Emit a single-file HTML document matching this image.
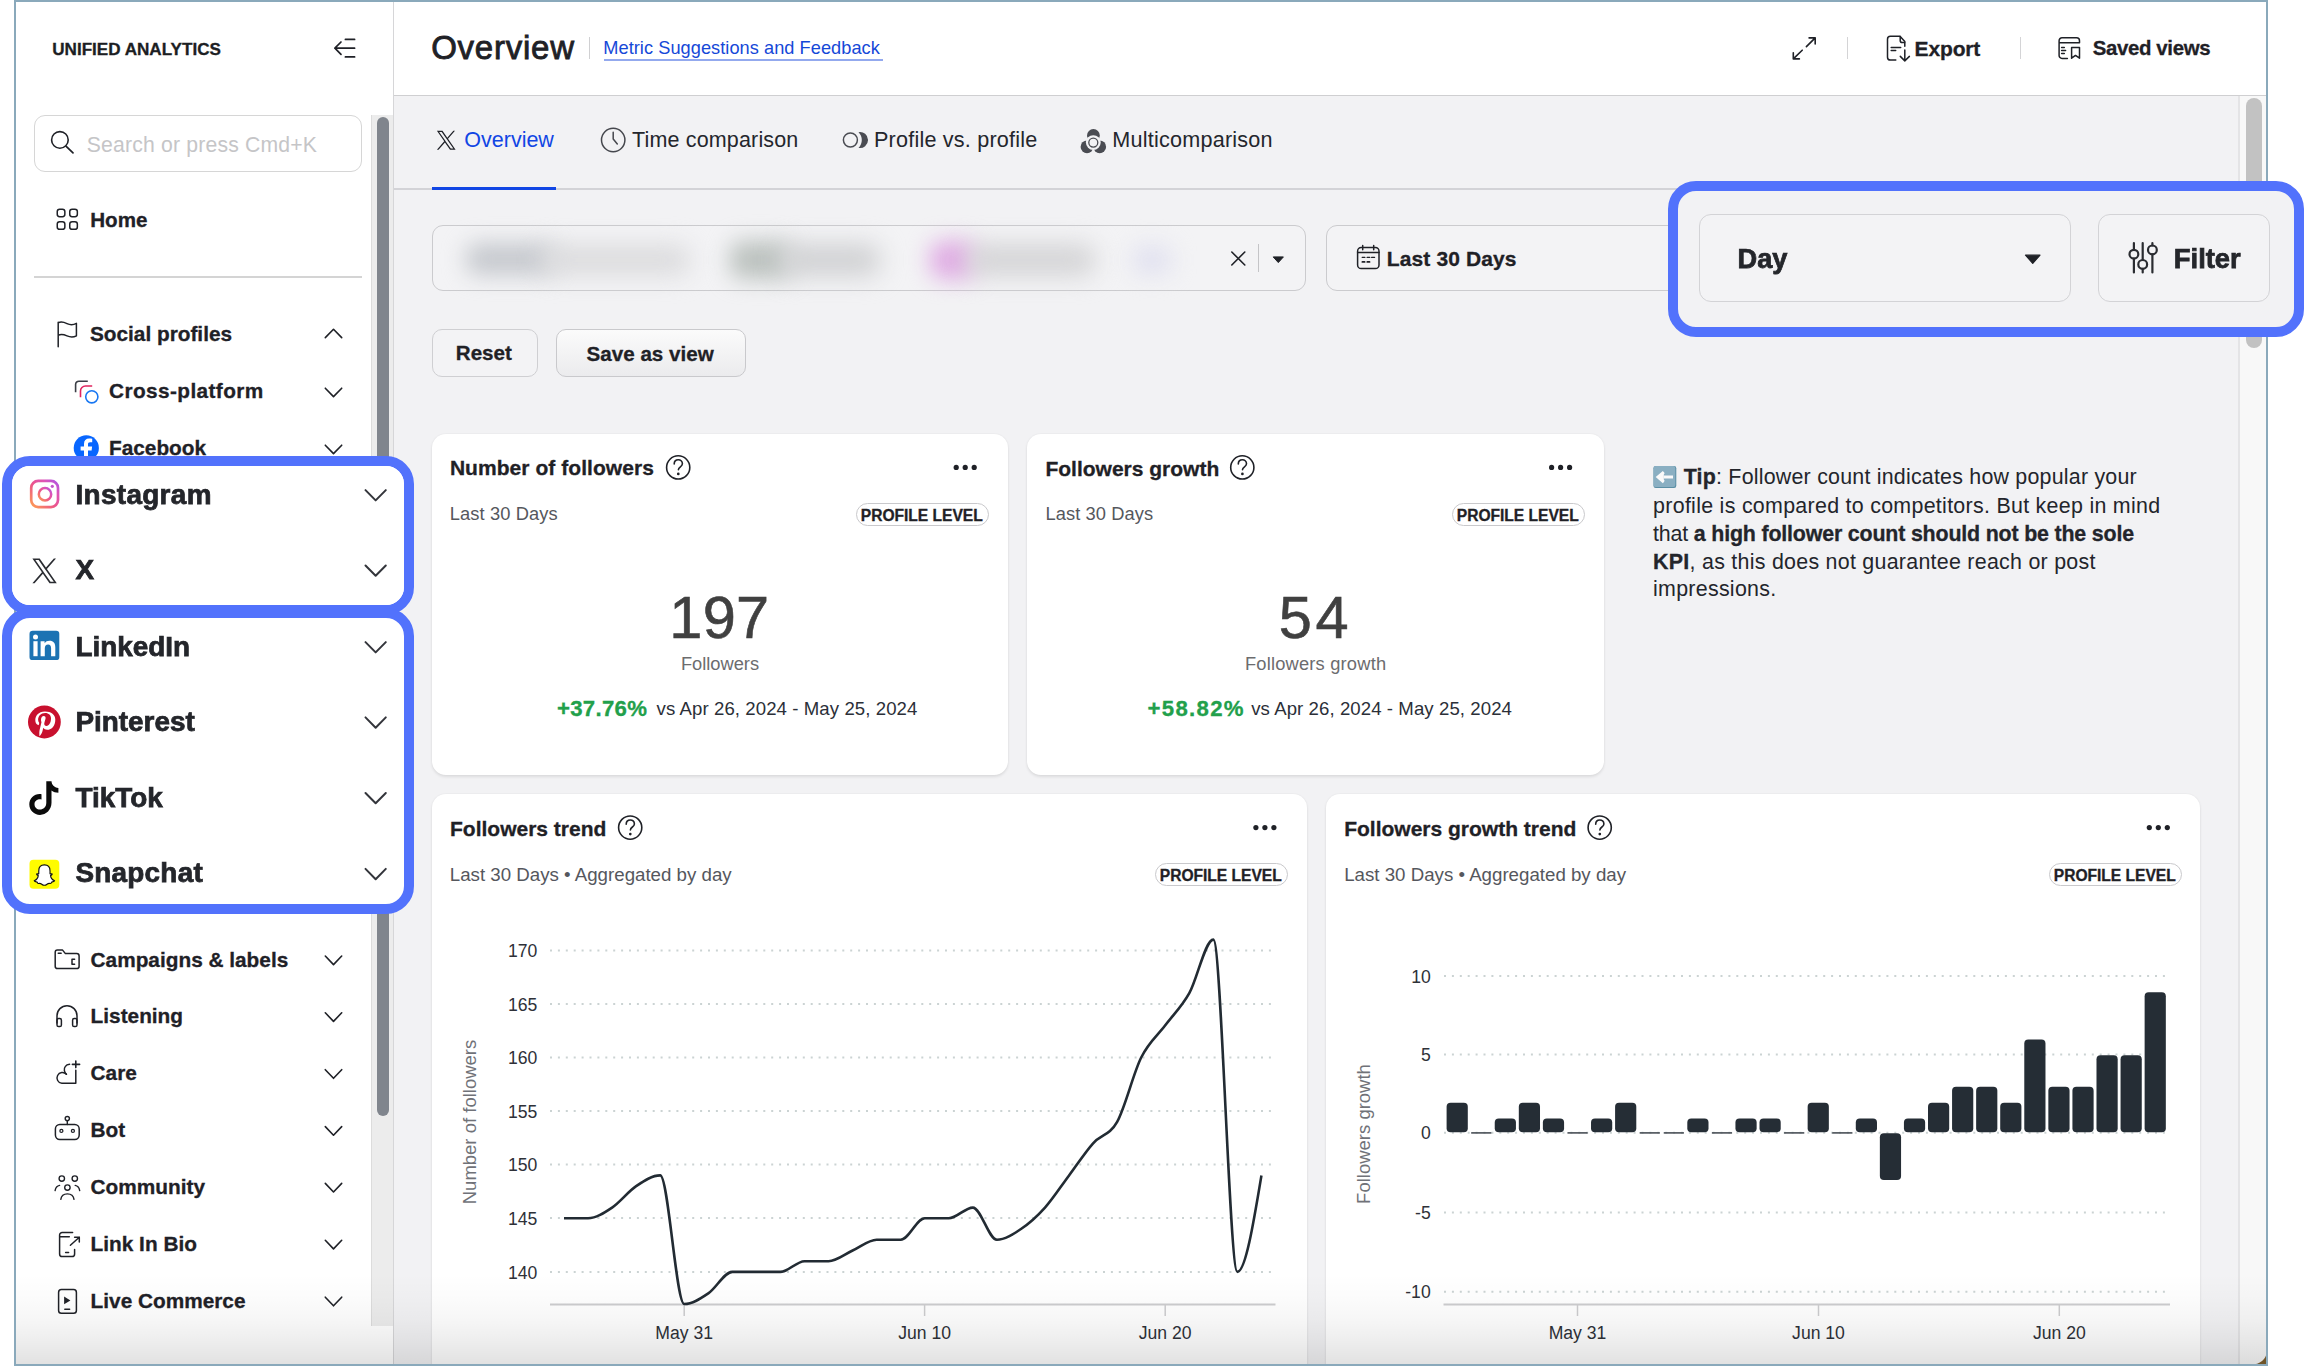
<!DOCTYPE html>
<html><head><meta charset="utf-8"><title>Unified Analytics - Overview</title>
<style>
*{margin:0;padding:0;box-sizing:border-box}
html,body{width:2306px;height:1366px;overflow:hidden;background:#fff}
body{position:relative;font-family:'Liberation Sans', Arial, sans-serif;color:#1f2127;-webkit-font-smoothing:antialiased}
.t{position:absolute;white-space:nowrap;line-height:1}
.t[style*="font-weight:700"], .t b{-webkit-text-stroke:0.3px currentColor}
.b{position:absolute}
svg.i{position:absolute;overflow:visible}
</style></head>
<body>
<div class="b" style="left:16px;top:2px;width:377px;height:1362px;background:#fff"></div>
<div class="b" style="left:393px;top:2px;width:1px;height:1362px;background:#d6d6d8"></div>
<div class="b" style="left:394px;top:2px;width:1872px;height:93px;background:#fff"></div>
<div class="b" style="left:394px;top:95px;width:1872px;height:1px;background:#cfcfd1"></div>
<div class="b" style="left:394px;top:96px;width:1872px;height:1268px;background:#f2f2f4"></div>
<div class="b" style="left:2238px;top:96px;width:2px;height:1268px;background:#e4e4e6"></div>
<div class="b" style="left:2240px;top:96px;width:26px;height:1268px;background:#f8f8f8"></div>
<div class="b" style="left:2246px;top:98px;width:16px;height:250px;background:#c2c2c2;border-radius:8px"></div>
<div class="b" style="left:394px;top:188px;width:1844px;height:2px;background:#d3d3d7"></div>
<div class="b" style="left:432px;top:187px;width:124px;height:3px;background:#1146e4"></div>
<div class="t" style="left:52.2px;top:40.52px;font-size:17.1px;font-weight:700;color:#1c1e23;">UNIFIED ANALYTICS</div>
<div class="b" style="left:34px;top:115px;width:328px;height:57px;border:1.5px solid #d6d6d6;border-radius:11px;background:#fff"></div>
<div class="t" style="left:86.7px;top:134.15px;font-size:21.2px;color:#c5c5c7;letter-spacing:0.18px;">Search or press Cmd+K</div>
<div class="t" style="left:90.2px;top:209.56px;font-size:20.6px;font-weight:700;">Home</div>
<div class="b" style="left:34px;top:276px;width:328px;height:2px;background:#d4d4d4"></div>
<div class="b" style="left:371px;top:115px;width:22px;height:1211px;background:#ececec;border-left:1px solid #dcdcdc"></div>
<div class="b" style="left:377px;top:117px;width:12px;height:999px;background:#80858d;border-radius:6px"></div>
<div class="t" style="left:89.9px;top:324.09px;font-size:20.8px;font-weight:700;">Social profiles</div>
<div class="t" style="left:109.0px;top:381.39px;font-size:20.8px;font-weight:700;letter-spacing:0.4px;">Cross-platform</div>
<div class="t" style="left:109.0px;top:438.19px;font-size:20.8px;font-weight:700;">Facebook</div>
<div class="t" style="left:109.0px;top:494.99px;font-size:20.8px;font-weight:700;">Instagram</div>
<div class="t" style="left:109.0px;top:551.79px;font-size:20.8px;font-weight:700;">X</div>
<div class="t" style="left:109.0px;top:608.69px;font-size:20.8px;font-weight:700;">LinkedIn</div>
<div class="t" style="left:109.0px;top:665.49px;font-size:20.8px;font-weight:700;">Pinterest</div>
<div class="t" style="left:109.0px;top:722.39px;font-size:20.8px;font-weight:700;">TikTok</div>
<div class="t" style="left:109.0px;top:779.19px;font-size:20.8px;font-weight:700;">Snapchat</div>
<div class="t" style="left:109.0px;top:836.09px;font-size:20.8px;font-weight:700;">YouTube</div>
<div class="t" style="left:109.0px;top:892.89px;font-size:20.8px;font-weight:700;">Threads</div>
<div class="t" style="left:90.6px;top:949.59px;font-size:20.8px;font-weight:700;">Campaigns &amp; labels</div>
<div class="t" style="left:90.6px;top:1006.39px;font-size:20.8px;font-weight:700;">Listening</div>
<div class="t" style="left:90.6px;top:1063.29px;font-size:20.8px;font-weight:700;">Care</div>
<div class="t" style="left:90.6px;top:1120.19px;font-size:20.8px;font-weight:700;">Bot</div>
<div class="t" style="left:90.6px;top:1176.99px;font-size:20.8px;font-weight:700;">Community</div>
<div class="t" style="left:90.6px;top:1233.89px;font-size:20.8px;font-weight:700;">Link In Bio</div>
<div class="t" style="left:90.6px;top:1290.79px;font-size:20.8px;font-weight:700;">Live Commerce</div>
<div class="t" style="left:431.2px;top:30.87px;font-size:33px;color:#1f2126;letter-spacing:0.75px;-webkit-text-stroke:0.85px #1f2126;">Overview</div>
<div class="b" style="left:589px;top:37px;width:1px;height:22px;background:#d0d0d2"></div>
<div class="t" style="left:603.3px;top:38.89px;font-size:18.2px;color:#1548d8;letter-spacing:0.05px;">Metric Suggestions and Feedback</div>
<div class="b" style="left:604px;top:59px;width:279px;height:2px;background:#93a9ee"></div>
<div class="b" style="left:1847px;top:37px;width:1px;height:22px;background:#d4d4d6"></div>
<div class="t" style="left:1914.6px;top:37.92px;font-size:21px;font-weight:700;color:#1f2126;letter-spacing:-0.15px;">Export</div>
<div class="b" style="left:2020px;top:37px;width:1px;height:22px;background:#d4d4d6"></div>
<div class="t" style="left:2092.7px;top:38.43px;font-size:20.4px;font-weight:700;color:#1f2126;letter-spacing:-0.35px;">Saved views</div>
<div class="t" style="left:464.3px;top:130.20px;font-size:21.5px;color:#1146e4;">Overview</div>
<div class="t" style="left:632.1px;top:130.20px;font-size:21.5px;color:#24262c;letter-spacing:0.15px;">Time comparison</div>
<div class="t" style="left:874.0px;top:128.72px;font-size:21.6px;color:#24262c;letter-spacing:0.2px;">Profile vs. profile</div>
<div class="t" style="left:1112.3px;top:128.72px;font-size:21.6px;color:#24262c;letter-spacing:0.22px;">Multicomparison</div>
<div class="b" style="left:432px;top:225px;width:874px;height:66px;border:1.5px solid #cbcbce;border-radius:11px;background:#f3f3f5;overflow:hidden"></div>
<div class="b" style="left:466px;top:243px;width:90px;height:32px;background:#c6c9ce;border-radius:12px;filter:blur(11px)"></div>
<div class="b" style="left:540px;top:245px;width:150px;height:30px;background:#dbdbdd;border-radius:12px;filter:blur(12px)"></div>
<div class="b" style="left:730px;top:241px;width:62px;height:38px;background:#bcc2bf;border-radius:12px;filter:blur(11px)"></div>
<div class="b" style="left:780px;top:244px;width:100px;height:32px;background:#d0d1d3;border-radius:12px;filter:blur(12px)"></div>
<div class="b" style="left:930px;top:241px;width:46px;height:38px;background:#e0ace4;border-radius:12px;filter:blur(11px)"></div>
<div class="b" style="left:966px;top:244px;width:129px;height:32px;background:#d4d4d6;border-radius:12px;filter:blur(12px)"></div>
<div class="b" style="left:1132px;top:245px;width:40px;height:30px;background:#e2e2f0;border-radius:12px;filter:blur(11px)"></div>
<div class="b" style="left:1257.5px;top:244px;width:1.5px;height:28px;background:#c4c4c7"></div>
<div class="b" style="left:1326px;top:225px;width:374px;height:66px;border:1.5px solid #cbcbce;border-radius:11px;background:#f3f3f5"></div>
<div class="t" style="left:1386.8px;top:247.82px;font-size:21px;font-weight:700;color:#1f2126;letter-spacing:0.12px;">Last 30 Days</div>
<div class="b" style="left:432px;top:329px;width:106px;height:48px;border:1.5px solid #cfcfd2;border-radius:10px;background:#f3f3f5"></div>
<div class="t" style="left:455.8px;top:343.06px;font-size:20.6px;font-weight:700;color:#1f2126;">Reset</div>
<div class="b" style="left:556px;top:329px;width:190px;height:48px;border:1.5px solid #c9c9cc;border-radius:10px;background:linear-gradient(#fbfbfb,#ebebed)"></div>
<div class="t" style="left:586.6px;top:343.56px;font-size:20.6px;font-weight:700;color:#1f2126;">Save as view</div>
<div class="b" style="left:432px;top:434px;width:576px;height:341px;background:#fff;border-radius:14px;box-shadow:0 1.5px 3px rgba(0,0,0,0.09),0 0 0 1px rgba(0,0,0,0.012)"></div>
<div class="b" style="left:1027px;top:434px;width:577px;height:341px;background:#fff;border-radius:14px;box-shadow:0 1.5px 3px rgba(0,0,0,0.09),0 0 0 1px rgba(0,0,0,0.012)"></div>
<div class="b" style="left:432px;top:794px;width:875px;height:606px;background:#fff;border-radius:14px;box-shadow:0 1.5px 3px rgba(0,0,0,0.09),0 0 0 1px rgba(0,0,0,0.012)"></div>
<div class="b" style="left:1326px;top:794px;width:874px;height:606px;background:#fff;border-radius:14px;box-shadow:0 1.5px 3px rgba(0,0,0,0.09),0 0 0 1px rgba(0,0,0,0.012)"></div>
<div class="t" style="left:449.9px;top:457.42px;font-size:21px;font-weight:700;color:#1f2126;letter-spacing:0.05px;">Number of followers</div>
<div class="t" style="left:449.8px;top:505.31px;font-size:18.3px;color:#55575d;letter-spacing:0.1px;">Last 30 Days</div>
<div class="b" style="left:856px;top:503px;width:133px;height:23px;border:1.2px solid #c9c9cc;border-radius:12px;background:#fff"></div>
<div class="t" style="left:860.8px;top:508.19px;font-size:15.6px;font-weight:700;color:#1f2126;letter-spacing:-0.02px;">PROFILE LEVEL</div>
<div class="t" style="left:219.3px;width:1000px;text-align:center;top:587.63px;font-size:59.5px;color:#404040;letter-spacing:0.2px;-webkit-text-stroke:0.6px #404040;">197</div>
<div class="t" style="left:220.0px;width:1000px;text-align:center;top:654.71px;font-size:18.3px;color:#6c6c6e;">Followers</div>
<div class="t" style="left:556.9px;top:698.11px;font-size:22.2px;font-weight:700;color:#22a04b;letter-spacing:0.3px;">+37.76%</div>
<div class="t" style="left:656.6px;top:700.46px;font-size:18.6px;color:#2b2f38;letter-spacing:0.08px;">vs Apr 26, 2024 - May 25, 2024</div>
<div class="t" style="left:1045.4px;top:457.72px;font-size:21px;font-weight:700;color:#1f2126;">Followers growth</div>
<div class="t" style="left:1045.4px;top:505.31px;font-size:18.3px;color:#55575d;letter-spacing:0.1px;">Last 30 Days</div>
<div class="b" style="left:1452px;top:503px;width:133px;height:23px;border:1.2px solid #c9c9cc;border-radius:12px;background:#fff"></div>
<div class="t" style="left:1456.8px;top:508.19px;font-size:15.6px;font-weight:700;color:#1f2126;letter-spacing:-0.02px;">PROFILE LEVEL</div>
<div class="t" style="left:815.4px;width:1000px;text-align:center;top:587.63px;font-size:59.5px;color:#404040;letter-spacing:3.6px;-webkit-text-stroke:0.6px #404040;">54</div>
<div class="t" style="left:815.6px;width:1000px;text-align:center;top:654.71px;font-size:18.3px;color:#6c6c6e;letter-spacing:0.2px;">Followers growth</div>
<div class="t" style="left:1147.5px;top:698.11px;font-size:22.2px;font-weight:700;color:#22a04b;letter-spacing:1.3px;">+58.82%</div>
<div class="t" style="left:1251.2px;top:700.46px;font-size:18.6px;color:#2b2f38;letter-spacing:0.08px;">vs Apr 26, 2024 - May 25, 2024</div>
<div class="t" style="left:1653.1px;top:466.98px;font-size:21.4px;color:#23252b;letter-spacing:0.22px;"><span style="display:inline-block;width:30.6px"></span><b>Tip</b>: Follower count indicates how popular your</div>
<div class="t" style="left:1653.1px;top:496.08px;font-size:21.4px;color:#23252b;letter-spacing:0.29px;">profile is compared to competitors. But keep in mind</div>
<div class="t" style="left:1653.1px;top:523.88px;font-size:21.4px;color:#23252b;letter-spacing:-0.18px;">that <b>a high follower count should not be the sole</b></div>
<div class="t" style="left:1653.1px;top:551.58px;font-size:21.4px;color:#23252b;letter-spacing:0.27px;"><b>KPI</b>, as this does not guarantee reach or post</div>
<div class="t" style="left:1653.1px;top:579.38px;font-size:21.4px;color:#23252b;letter-spacing:0.27px;">impressions.</div>
<div class="t" style="left:450.0px;top:818.02px;font-size:21px;font-weight:700;color:#1f2126;">Followers trend</div>
<div class="t" style="left:449.8px;top:866.47px;font-size:18.7px;color:#55575d;">Last 30 Days • Aggregated by day</div>
<div class="b" style="left:1155px;top:863px;width:133px;height:23px;border:1.2px solid #c9c9cc;border-radius:12px;background:#fff"></div>
<div class="t" style="left:1159.8px;top:868.19px;font-size:15.6px;font-weight:700;color:#1f2126;letter-spacing:-0.02px;">PROFILE LEVEL</div>
<div class="t" style="left:1344.2px;top:818.02px;font-size:21px;font-weight:700;color:#1f2126;">Followers growth trend</div>
<div class="t" style="left:1344.2px;top:866.47px;font-size:18.7px;color:#55575d;">Last 30 Days • Aggregated by day</div>
<div class="b" style="left:2049px;top:863px;width:133px;height:23px;border:1.2px solid #c9c9cc;border-radius:12px;background:#fff"></div>
<div class="t" style="left:2053.8px;top:868.19px;font-size:15.6px;font-weight:700;color:#1f2126;letter-spacing:-0.02px;">PROFILE LEVEL</div>
<div class="t" style="right:1768.7px;text-align:right;top:943.10px;font-size:17.6px;color:#2e3138;">170</div>
<div class="t" style="right:1768.7px;text-align:right;top:996.60px;font-size:17.6px;color:#2e3138;">165</div>
<div class="t" style="right:1768.7px;text-align:right;top:1050.10px;font-size:17.6px;color:#2e3138;">160</div>
<div class="t" style="right:1768.7px;text-align:right;top:1103.70px;font-size:17.6px;color:#2e3138;">155</div>
<div class="t" style="right:1768.7px;text-align:right;top:1157.20px;font-size:17.6px;color:#2e3138;">150</div>
<div class="t" style="right:1768.7px;text-align:right;top:1210.70px;font-size:17.6px;color:#2e3138;">145</div>
<div class="t" style="right:1768.7px;text-align:right;top:1264.60px;font-size:17.6px;color:#2e3138;">140</div>
<div class="t" style="right:875.3px;text-align:right;top:968.60px;font-size:17.6px;color:#2e3138;">10</div>
<div class="t" style="right:875.3px;text-align:right;top:1047.10px;font-size:17.6px;color:#2e3138;">5</div>
<div class="t" style="right:875.3px;text-align:right;top:1125.40px;font-size:17.6px;color:#2e3138;">0</div>
<div class="t" style="right:875.3px;text-align:right;top:1205.20px;font-size:17.6px;color:#2e3138;">-5</div>
<div class="t" style="right:875.3px;text-align:right;top:1284.40px;font-size:17.6px;color:#2e3138;">-10</div>
<div class="t" style="left:184.2px;width:1000px;text-align:center;top:1324.90px;font-size:17.6px;color:#2e3138;">May 31</div>
<div class="t" style="left:424.6px;width:1000px;text-align:center;top:1324.90px;font-size:17.6px;color:#2e3138;">Jun 10</div>
<div class="t" style="left:665.2px;width:1000px;text-align:center;top:1324.90px;font-size:17.6px;color:#2e3138;">Jun 20</div>
<div class="t" style="left:1077.5px;width:1000px;text-align:center;top:1324.90px;font-size:17.6px;color:#2e3138;">May 31</div>
<div class="t" style="left:1318.5px;width:1000px;text-align:center;top:1324.90px;font-size:17.6px;color:#2e3138;">Jun 10</div>
<div class="t" style="left:1559.3px;width:1000px;text-align:center;top:1324.90px;font-size:17.6px;color:#2e3138;">Jun 20</div>
<div class="t" style="left:370px;top:1112.5px;width:200px;text-align:center;font-size:18.5px;color:#707278;transform:rotate(-90deg);line-height:18px">Number of followers</div>
<div class="t" style="left:1264.4px;top:1124.5px;width:200px;text-align:center;font-size:18.5px;color:#707278;transform:rotate(-90deg);line-height:18px">Followers growth</div>
<svg class="i" style="left:0;top:0" width="2306" height="1366" viewBox="0 0 2306 1366">
<line x1="550" y1="950.4" x2="1271" y2="950.4" stroke="#cbd3d3" stroke-width="2" stroke-dasharray="2 5.9"/>
<line x1="550" y1="1003.9" x2="1271" y2="1003.9" stroke="#cbd3d3" stroke-width="2" stroke-dasharray="2 5.9"/>
<line x1="550" y1="1057.4" x2="1271" y2="1057.4" stroke="#cbd3d3" stroke-width="2" stroke-dasharray="2 5.9"/>
<line x1="550" y1="1111.0" x2="1271" y2="1111.0" stroke="#cbd3d3" stroke-width="2" stroke-dasharray="2 5.9"/>
<line x1="550" y1="1164.5" x2="1271" y2="1164.5" stroke="#cbd3d3" stroke-width="2" stroke-dasharray="2 5.9"/>
<line x1="550" y1="1218.0" x2="1271" y2="1218.0" stroke="#cbd3d3" stroke-width="2" stroke-dasharray="2 5.9"/>
<line x1="550" y1="1271.9" x2="1271" y2="1271.9" stroke="#cbd3d3" stroke-width="2" stroke-dasharray="2 5.9"/>
<line x1="1444" y1="975.9" x2="2166" y2="975.9" stroke="#cbd3d3" stroke-width="2" stroke-dasharray="2 5.9"/>
<line x1="1444" y1="1054.4" x2="2166" y2="1054.4" stroke="#cbd3d3" stroke-width="2" stroke-dasharray="2 5.9"/>
<line x1="1444" y1="1132.7" x2="2166" y2="1132.7" stroke="#cbd3d3" stroke-width="2" stroke-dasharray="2 5.9"/>
<line x1="1444" y1="1212.5" x2="2166" y2="1212.5" stroke="#cbd3d3" stroke-width="2" stroke-dasharray="2 5.9"/>
<line x1="1444" y1="1291.7" x2="2166" y2="1291.7" stroke="#cbd3d3" stroke-width="2" stroke-dasharray="2 5.9"/>
<line x1="550" y1="1304.5" x2="1275.5" y2="1304.5" stroke="#cdcdcf" stroke-width="2"/>
<line x1="1443.5" y1="1304.5" x2="2170" y2="1304.5" stroke="#cdcdcf" stroke-width="2"/>
<line x1="684.2" y1="1304" x2="684.2" y2="1316" stroke="#cdcdcf" stroke-width="1.5"/>
<line x1="924.6" y1="1304" x2="924.6" y2="1316" stroke="#cdcdcf" stroke-width="1.5"/>
<line x1="1165.2" y1="1304" x2="1165.2" y2="1316" stroke="#cdcdcf" stroke-width="1.5"/>
<line x1="1577.5" y1="1304" x2="1577.5" y2="1316" stroke="#cdcdcf" stroke-width="1.5"/>
<line x1="1818.5" y1="1304" x2="1818.5" y2="1316" stroke="#cdcdcf" stroke-width="1.5"/>
<line x1="2059.3" y1="1304" x2="2059.3" y2="1316" stroke="#cdcdcf" stroke-width="1.5"/>
<path d="M564.00,1218.30C572.02,1218.30,580.03,1218.30,588.05,1218.30C596.07,1218.30,604.08,1212.94,612.10,1207.58C620.12,1202.22,628.13,1191.50,636.15,1186.14C644.17,1180.78,652.18,1175.42,660.20,1175.42C668.22,1175.42,676.23,1304.06,684.25,1304.06C692.27,1304.06,700.28,1298.70,708.30,1293.34C716.32,1287.98,724.33,1271.90,732.35,1271.90C740.37,1271.90,748.38,1271.90,756.40,1271.90C764.42,1271.90,772.43,1271.90,780.45,1271.90C788.47,1271.90,796.48,1261.18,804.50,1261.18C812.52,1261.18,820.53,1261.18,828.55,1261.18C836.57,1261.18,844.58,1254.03,852.60,1250.46C860.62,1246.89,868.63,1239.74,876.65,1239.74C884.67,1239.74,892.68,1239.74,900.70,1239.74C908.72,1239.74,916.73,1218.30,924.75,1218.30C932.77,1218.30,940.78,1218.30,948.80,1218.30C956.82,1218.30,964.83,1207.58,972.85,1207.58C980.87,1207.58,988.88,1239.74,996.90,1239.74C1004.92,1239.74,1012.93,1234.38,1020.95,1229.02C1028.97,1223.66,1036.98,1216.51,1045.00,1207.58C1053.02,1198.65,1061.03,1186.14,1069.05,1175.42C1077.07,1164.70,1085.08,1152.19,1093.10,1143.26C1101.12,1134.33,1109.13,1136.11,1117.15,1121.82C1125.17,1107.53,1133.18,1073.58,1141.20,1057.50C1149.22,1041.42,1157.23,1036.06,1165.25,1025.34C1173.27,1014.62,1181.28,1007.47,1189.30,993.18C1197.32,978.89,1205.33,939.58,1213.35,939.58C1221.37,939.58,1229.38,1271.90,1237.40,1271.90C1245.42,1271.90,1253.43,1223.66,1261.45,1175.42" fill="none" stroke="#222b33" stroke-width="2.6" stroke-linejoin="round" stroke-linecap="butt"/>
<rect x="1446.60" y="1102.64" width="21.20" height="29.56" rx="4" fill="#252d35"/>
<rect x="1471.17" y="1132.10" width="20.20" height="1.6" fill="#4a5057"/>
<rect x="1494.74" y="1118.42" width="21.20" height="13.78" rx="4" fill="#252d35"/>
<rect x="1518.81" y="1102.64" width="21.20" height="29.56" rx="4" fill="#252d35"/>
<rect x="1542.88" y="1118.42" width="21.20" height="13.78" rx="4" fill="#252d35"/>
<rect x="1567.45" y="1132.10" width="20.20" height="1.6" fill="#4a5057"/>
<rect x="1591.02" y="1118.42" width="21.20" height="13.78" rx="4" fill="#252d35"/>
<rect x="1615.09" y="1102.64" width="21.20" height="29.56" rx="4" fill="#252d35"/>
<rect x="1639.66" y="1132.10" width="20.20" height="1.6" fill="#4a5057"/>
<rect x="1663.73" y="1132.10" width="20.20" height="1.6" fill="#4a5057"/>
<rect x="1687.30" y="1118.42" width="21.20" height="13.78" rx="4" fill="#252d35"/>
<rect x="1711.87" y="1132.10" width="20.20" height="1.6" fill="#4a5057"/>
<rect x="1735.44" y="1118.42" width="21.20" height="13.78" rx="4" fill="#252d35"/>
<rect x="1759.51" y="1118.42" width="21.20" height="13.78" rx="4" fill="#252d35"/>
<rect x="1784.08" y="1132.10" width="20.20" height="1.6" fill="#4a5057"/>
<rect x="1807.65" y="1102.64" width="21.20" height="29.56" rx="4" fill="#252d35"/>
<rect x="1832.22" y="1132.10" width="20.20" height="1.6" fill="#4a5057"/>
<rect x="1855.79" y="1118.42" width="21.20" height="13.78" rx="4" fill="#252d35"/>
<rect x="1879.86" y="1133.20" width="21.20" height="46.84" rx="4" fill="#252d35"/>
<rect x="1903.93" y="1118.42" width="21.20" height="13.78" rx="4" fill="#252d35"/>
<rect x="1928.00" y="1102.64" width="21.20" height="29.56" rx="4" fill="#252d35"/>
<rect x="1952.07" y="1086.86" width="21.20" height="45.34" rx="4" fill="#252d35"/>
<rect x="1976.14" y="1086.86" width="21.20" height="45.34" rx="4" fill="#252d35"/>
<rect x="2000.21" y="1102.64" width="21.20" height="29.56" rx="4" fill="#252d35"/>
<rect x="2024.28" y="1039.52" width="21.20" height="92.68" rx="4" fill="#252d35"/>
<rect x="2048.35" y="1086.86" width="21.20" height="45.34" rx="4" fill="#252d35"/>
<rect x="2072.42" y="1086.86" width="21.20" height="45.34" rx="4" fill="#252d35"/>
<rect x="2096.49" y="1055.30" width="21.20" height="76.90" rx="4" fill="#252d35"/>
<rect x="2120.56" y="1055.30" width="21.20" height="76.90" rx="4" fill="#252d35"/>
<rect x="2144.63" y="992.18" width="21.20" height="140.02" rx="4" fill="#252d35"/>
</svg>
<svg class="i" style="left:0;top:0" width="2306" height="1366" viewBox="0 0 2306 1366"><path d="M341,42 L334.9,48.2 L341,54.3 M334.9,48.2 H354.6 M345.4,39.4 H354.6 M345.4,56.9 H354.6" fill="none" stroke="#1f2127" stroke-width="1.7" stroke-linecap="round" stroke-linejoin="round"/>
<circle cx="59.9" cy="139.9" r="8.3" fill="none" stroke="#1f2127" stroke-width="1.6" stroke-linecap="round" stroke-linejoin="round"/><path d="M66.2,146.3 L73,152.9" fill="none" stroke="#1f2127" stroke-width="1.7" stroke-linecap="round" stroke-linejoin="round"/>
<rect x="57.25" y="209.14999999999998" width="7.6" height="7.6" rx="2.4" fill="none" stroke="#1f2127" stroke-width="1.5" stroke-linecap="round" stroke-linejoin="round"/>
<rect x="57.25" y="221.7" width="7.6" height="7.6" rx="2.4" fill="none" stroke="#1f2127" stroke-width="1.5" stroke-linecap="round" stroke-linejoin="round"/>
<rect x="69.75" y="209.14999999999998" width="7.6" height="7.6" rx="2.4" fill="none" stroke="#1f2127" stroke-width="1.5" stroke-linecap="round" stroke-linejoin="round"/>
<rect x="69.75" y="221.7" width="7.6" height="7.6" rx="2.4" fill="none" stroke="#1f2127" stroke-width="1.5" stroke-linecap="round" stroke-linejoin="round"/>
<path d="M58.2,346.8 V322.3 M58.2,322.8 C61.5,321.2 64,322.2 67,323.6 C70,325 73,325.2 76.4,323.3 V335.8 C73,337.6 70,337.2 67,335.9 C64,334.6 61.5,333.8 58.2,335.3" fill="none" stroke="#1f2127" stroke-width="1.5" stroke-linecap="round" stroke-linejoin="round"/>
<path d="M325.3,337.6 L333.5,329.3 L341.7,337.6" fill="none" stroke="#1f2127" stroke-width="1.6" stroke-linecap="round" stroke-linejoin="round"/>
<path d="M75.6,392.3 V384.5 A3.3,3.3 0 0 1 78.9,381.2 H87.8" fill="none" stroke="#3b3f46" stroke-width="1.6"/>
<path d="M80.5,397.3 V391 A5,5 0 0 1 85.5,386 H92.2" fill="none" stroke="#e0245e" stroke-width="1.6"/>
<circle cx="91.8" cy="396.8" r="6.1" fill="none" stroke="#1877f2" stroke-width="1.6"/>
<path d="M325.3,388.2 L333.5,396.6 L341.7,388.2" fill="none" stroke="#1f2127" stroke-width="1.6" stroke-linecap="round" stroke-linejoin="round"/>
<circle cx="86.3" cy="447.9" r="12.6" fill="#0866ff"/>
<path d="M88,460.5 V450.6 H91.6 L92.1,446.6 H88 V444.3 C88,443.1 88.5,442.3 90.1,442.3 H92.2 V438.8 C91.4,438.7 90.3,438.6 89.2,438.6 C85.9,438.6 84,440.5 84,443.9 V446.6 H80.6 V450.6 H84 V460.5 Z" fill="#fff"/>
<path d="M325.3,445.2 L333.5,453.6 L341.7,445.2" fill="none" stroke="#1f2127" stroke-width="1.6" stroke-linecap="round" stroke-linejoin="round"/>
<path d="M325.3,956.0 L333.5,964.6 L341.7,956.0" fill="none" stroke="#1f2127" stroke-width="1.6" stroke-linecap="round" stroke-linejoin="round"/>
<path d="M325.3,1012.8 L333.5,1021.4 L341.7,1012.8" fill="none" stroke="#1f2127" stroke-width="1.6" stroke-linecap="round" stroke-linejoin="round"/>
<path d="M325.3,1069.7 L333.5,1078.3000000000002 L341.7,1069.7" fill="none" stroke="#1f2127" stroke-width="1.6" stroke-linecap="round" stroke-linejoin="round"/>
<path d="M325.3,1126.6 L333.5,1135.2 L341.7,1126.6" fill="none" stroke="#1f2127" stroke-width="1.6" stroke-linecap="round" stroke-linejoin="round"/>
<path d="M325.3,1183.3999999999999 L333.5,1192.0 L341.7,1183.3999999999999" fill="none" stroke="#1f2127" stroke-width="1.6" stroke-linecap="round" stroke-linejoin="round"/>
<path d="M325.3,1240.3 L333.5,1248.9 L341.7,1240.3" fill="none" stroke="#1f2127" stroke-width="1.6" stroke-linecap="round" stroke-linejoin="round"/>
<path d="M325.3,1297.2 L333.5,1305.8000000000002 L341.7,1297.2" fill="none" stroke="#1f2127" stroke-width="1.6" stroke-linecap="round" stroke-linejoin="round"/>
<path d="M55.2,952.3 A2.2,2.2 0 0 1 57.4,950.1 H62.6 L65.4,953.6 H76.7 A2.4,2.4 0 0 1 79.1,956 V966.2 A2.4,2.4 0 0 1 76.7,968.6 H57.6 A2.4,2.4 0 0 1 55.2,966.2 Z" fill="none" stroke="#1f2127" stroke-width="1.5" stroke-linecap="round" stroke-linejoin="round"/>
<path d="M58.2,953.2 H61.2" fill="none" stroke="#1f2127" stroke-width="1.4" stroke-linecap="round" stroke-linejoin="round"/><path d="M74.6,959.2 H72 V964.3 H74.6" fill="none" stroke="#1f2127" stroke-width="1.5" stroke-linecap="round" stroke-linejoin="round"/>
<path d="M57,1023 V1015.7 A10,10 0 0 1 77,1015.7 V1023" fill="none" stroke="#1f2127" stroke-width="1.5" stroke-linecap="round" stroke-linejoin="round"/>
<rect x="57" y="1018.6" width="4.4" height="8" rx="1.6" fill="none" stroke="#1f2127" stroke-width="1.5" stroke-linecap="round" stroke-linejoin="round"/><rect x="72.6" y="1018.6" width="4.4" height="8" rx="1.6" fill="none" stroke="#1f2127" stroke-width="1.5" stroke-linecap="round" stroke-linejoin="round"/>
<path d="M75.8,1070.3 V1083.3 H61.8 A5.4,5.4 0 1 1 66.4,1074.3" fill="none" stroke="#1f2127" stroke-width="1.5" stroke-linecap="round" stroke-linejoin="round"/>
<path d="M66.4,1074.3 C64.2,1072.4 63.6,1068.8 65.2,1066.6 C66.3,1065 67.8,1064.4 69.6,1064.3" fill="none" stroke="#1f2127" stroke-width="1.5" stroke-linecap="round" stroke-linejoin="round"/>
<path d="M72.4,1064.4 H79.6 M75.8,1061 V1067.6" fill="none" stroke="#1f2127" stroke-width="1.6" stroke-linecap="round" stroke-linejoin="round"/>
<circle cx="67.3" cy="1118.6" r="2.1" fill="none" stroke="#1f2127" stroke-width="1.4" stroke-linecap="round" stroke-linejoin="round"/><path d="M67.3,1120.7 V1124.5" fill="none" stroke="#1f2127" stroke-width="1.4" stroke-linecap="round" stroke-linejoin="round"/>
<rect x="55.4" y="1124.5" width="23.8" height="14.9" rx="4.4" fill="none" stroke="#1f2127" stroke-width="1.5" stroke-linecap="round" stroke-linejoin="round"/>
<circle cx="61.4" cy="1130.9" r="1.5" fill="none" stroke="#1f2127" stroke-width="1.3" stroke-linecap="round" stroke-linejoin="round"/><circle cx="72.9" cy="1130.9" r="1.5" fill="none" stroke="#1f2127" stroke-width="1.3" stroke-linecap="round" stroke-linejoin="round"/>
<circle cx="61.8" cy="1178.6" r="2.7" fill="none" stroke="#1f2127" stroke-width="1.4" stroke-linecap="round" stroke-linejoin="round"/><circle cx="74.8" cy="1178.6" r="2.7" fill="none" stroke="#1f2127" stroke-width="1.4" stroke-linecap="round" stroke-linejoin="round"/><circle cx="67.4" cy="1187.6" r="2.7" fill="none" stroke="#1f2127" stroke-width="1.4" stroke-linecap="round" stroke-linejoin="round"/>
<path d="M55.1,1190.6 C55.6,1187.6 57.4,1185.8 59.6,1185.4 M79.7,1190.6 C79.2,1187.6 77.4,1185.8 75.2,1185.4 M60.8,1199.4 C61.3,1195.8 64,1193.9 67.4,1193.9 C70.8,1193.9 73.5,1195.8 74,1199.4" fill="none" stroke="#1f2127" stroke-width="1.4" stroke-linecap="round" stroke-linejoin="round"/>
<path d="M72.6,1232.4 H62.2 A2.6,2.6 0 0 0 59.6,1235 V1253.9 A2.6,2.6 0 0 0 62.2,1256.5 H72 A2.6,2.6 0 0 0 74.6,1253.9 V1249.6" fill="none" stroke="#1f2127" stroke-width="1.5" stroke-linecap="round" stroke-linejoin="round"/>
<path d="M60,1236.8 H69.3 M65.6,1252.4 H68.6 M70.4,1245.3 L79.3,1237.2 M74.6,1237.2 H79.3 V1241.9" fill="none" stroke="#1f2127" stroke-width="1.5" stroke-linecap="round" stroke-linejoin="round"/>
<rect x="58.6" y="1289.6" width="17.8" height="23.6" rx="2.8" fill="none" stroke="#1f2127" stroke-width="1.5" stroke-linecap="round" stroke-linejoin="round"/>
<path d="M64.1,1296.6 V1304.2 L70.4,1300.4 Z" fill="#1f2127"/><path d="M64.8,1309.2 H69.6" fill="none" stroke="#1f2127" stroke-width="1.5" stroke-linecap="round" stroke-linejoin="round"/>
<path d="M1806.4,46.6 L1815.2,37.9 M1809.1,37.9 H1815.2 V44 M1802.2,50.2 L1793.3,58.9 M1793.3,52.8 V58.9 H1799.4" fill="none" stroke="#1f2127" stroke-width="1.6" stroke-linecap="round" stroke-linejoin="round"/>
<path d="M1895.8,60.1 H1890.4 A2.9,2.9 0 0 1 1887.5,57.2 V39.2 A2.9,2.9 0 0 1 1890.4,36.3 H1900 L1904.8,41.6 V46.3" fill="none" stroke="#1f2127" stroke-width="1.5" stroke-linecap="round" stroke-linejoin="round"/>
<path d="M1900.2,36.6 V40.4 A2.2,2.2 0 0 0 1902.4,42.6 H1904.6 M1891.2,47.5 H1900.7 M1891.2,50.4 H1895.7 M1904.8,50 V60.6 M1900.3,56.4 L1904.8,60.9 L1909.4,56.4" fill="none" stroke="#1f2127" stroke-width="1.5" stroke-linecap="round" stroke-linejoin="round"/>
<path d="M2067.4,58.4 H2062 A2.9,2.9 0 0 1 2059.1,55.5 V40.7 A2.9,2.9 0 0 1 2062,37.8 H2076.6 A2.9,2.9 0 0 1 2079.5,40.7 V42.7 H2059.1" fill="none" stroke="#1f2127" stroke-width="1.5" stroke-linecap="round" stroke-linejoin="round"/>
<path d="M2061.6,47.4 H2064.3 M2061.6,50.4 H2065.6 M2061.6,53.6 H2064.3 M2071.6,58.2 V47.4 H2079.5 V58.2 L2075.5,55.4 Z" fill="none" stroke="#1f2127" stroke-width="1.5" stroke-linecap="round" stroke-linejoin="round"/>
<path transform="translate(436.9,130.7) scale(0.01558)" d="M714.163 519.284L1160.89 0H1055.03L667.137 450.887L357.328 0H0L468.492 681.821L0 1226.37H105.866L515.491 750.218L842.672 1226.37H1200L714.137 519.284H714.163ZM569.165 687.828L521.697 619.934L144.011 79.6944H306.615L611.412 515.685L658.88 583.579L1055.08 1150.3H892.476L569.165 687.854V687.828Z" fill="#1f2127"/>
<circle cx="613.2" cy="140" r="11.7" fill="none" stroke="#45474d" stroke-width="1.5" stroke-linecap="round" stroke-linejoin="round"/><path d="M613.2,132.3 V139 L617.3,144" fill="none" stroke="#45474d" stroke-width="1.5" stroke-linecap="round" stroke-linejoin="round"/>
<circle cx="850.4" cy="140" r="7" fill="none" stroke="#4a4c52" stroke-width="1.5" stroke-linecap="round" stroke-linejoin="round"/>
<path d="M858.5,132.2 A8,8 0 1 1 858.5,147.9 A11,11 0 0 0 858.5,132.2 Z" fill="#4a4c52"/>
<mask id="mcm"><rect x="1070" y="120" width="45" height="40" fill="#fff"/><circle cx="1093.3" cy="142.6" r="7.4" fill="#000"/></mask>
<g mask="url(#mcm)" fill="#4a4c52"><circle cx="1093.4" cy="135.5" r="6.4"/><circle cx="1087" cy="146.8" r="6.4"/><circle cx="1099.7" cy="146.8" r="6.4"/></g>
<circle cx="1093.3" cy="142.6" r="4.5" fill="none" stroke="#4a4c52" stroke-width="1.3" stroke-linecap="round" stroke-linejoin="round"/>
<path d="M1231.8,252 L1244.8,265 M1244.8,252 L1231.8,265" fill="none" stroke="#1f2127" stroke-width="1.6" stroke-linecap="round" stroke-linejoin="round"/>
<path d="M1273.2,256.9 H1283.4 L1278.3,262.6 Z" fill="#1f2127" stroke="#1f2127" stroke-width="1" stroke-linejoin="round"/>
<rect x="1357.6" y="247.6" width="21.4" height="20.9" rx="3.6" fill="none" stroke="#1f2127" stroke-width="1.5" stroke-linecap="round" stroke-linejoin="round"/><path d="M1357.6,252.6 H1379 M1362.7,245.4 V249.8 M1373.7,245.4 V249.8" fill="none" stroke="#1f2127" stroke-width="1.5" stroke-linecap="round" stroke-linejoin="round"/>
<path d="M1362.2,257.4 H1364.9 M1367.1,257.4 H1369.8 M1371.6,257.4 H1374.6" stroke="#1f2127" stroke-width="1.2" stroke-linecap="round"/>
<path d="M1362.4,261.9 H1364.6 M1367.3,261.9 H1369.5" stroke="#1f2127" stroke-width="1.8" stroke-linecap="round"/>
<circle cx="678.2" cy="467.4" r="11.6" fill="none" stroke="#1f2127" stroke-width="1.6" stroke-linecap="round" stroke-linejoin="round"/><path d="M674.2,464.0 C674.2,458.4 682.4000000000001,458.4 682.4000000000001,463.79999999999995 C682.4000000000001,466.79999999999995 678.4000000000001,466.79999999999995 678.4000000000001,469.79999999999995" fill="none" stroke="#1f2127" stroke-width="1.6" stroke-linecap="round" stroke-linejoin="round"/><circle cx="678.3000000000001" cy="473.9" r="1.35" fill="#1f2127"/>
<circle cx="956.2" cy="467.4" r="2.6" fill="#1f2127"/><circle cx="965.2" cy="467.4" r="2.6" fill="#1f2127"/><circle cx="974.2" cy="467.4" r="2.6" fill="#1f2127"/>
<circle cx="1242.3" cy="467.4" r="11.6" fill="none" stroke="#1f2127" stroke-width="1.6" stroke-linecap="round" stroke-linejoin="round"/><path d="M1238.3,464.0 C1238.3,458.4 1246.5,458.4 1246.5,463.79999999999995 C1246.5,466.79999999999995 1242.5,466.79999999999995 1242.5,469.79999999999995" fill="none" stroke="#1f2127" stroke-width="1.6" stroke-linecap="round" stroke-linejoin="round"/><circle cx="1242.3999999999999" cy="473.9" r="1.35" fill="#1f2127"/>
<circle cx="1551.6" cy="467.4" r="2.6" fill="#1f2127"/><circle cx="1560.6" cy="467.4" r="2.6" fill="#1f2127"/><circle cx="1569.6" cy="467.4" r="2.6" fill="#1f2127"/>
<circle cx="630.2" cy="827.6" r="11.6" fill="none" stroke="#1f2127" stroke-width="1.6" stroke-linecap="round" stroke-linejoin="round"/><path d="M626.2,824.2 C626.2,818.6 634.4000000000001,818.6 634.4000000000001,824.0 C634.4000000000001,827.0 630.4000000000001,827.0 630.4000000000001,830.0" fill="none" stroke="#1f2127" stroke-width="1.6" stroke-linecap="round" stroke-linejoin="round"/><circle cx="630.3000000000001" cy="834.1" r="1.35" fill="#1f2127"/>
<circle cx="1255.8999999999999" cy="827.6" r="2.6" fill="#1f2127"/><circle cx="1264.8999999999999" cy="827.6" r="2.6" fill="#1f2127"/><circle cx="1273.8999999999999" cy="827.6" r="2.6" fill="#1f2127"/>
<circle cx="1599.7" cy="827.6" r="11.6" fill="none" stroke="#1f2127" stroke-width="1.6" stroke-linecap="round" stroke-linejoin="round"/><path d="M1595.7,824.2 C1595.7,818.6 1603.9,818.6 1603.9,824.0 C1603.9,827.0 1599.9,827.0 1599.9,830.0" fill="none" stroke="#1f2127" stroke-width="1.6" stroke-linecap="round" stroke-linejoin="round"/><circle cx="1599.8" cy="834.1" r="1.35" fill="#1f2127"/>
<circle cx="2149.2999999999997" cy="827.6" r="2.6" fill="#1f2127"/><circle cx="2158.2999999999997" cy="827.6" r="2.6" fill="#1f2127"/><circle cx="2167.2999999999997" cy="827.6" r="2.6" fill="#1f2127"/>
<rect x="1653.5" y="466" width="22.8" height="22" rx="2.2" fill="#5b8fa5"/>
<rect x="1653.5" y="466" width="21.8" height="20.9" rx="2" fill="#8aafc2"/>
<path d="M1673,477.1 H1663.8 M1663.8,472.2 L1658,477.1 L1663.8,482" stroke="#fafafa" stroke-width="3" fill="none" stroke-linejoin="miter"/>
<path d="M1663.8,471.8 V482.4 L1657.4,477.1 Z" fill="#fafafa"/></svg>
<div class="b" style="left:16px;top:1274px;width:2250px;height:90px;background:linear-gradient(rgba(0,0,0,0) 0%,rgba(0,0,0,0.015) 28%,rgba(0,0,0,0.035) 51%,rgba(0,0,0,0.065) 73%,rgba(0,0,0,0.112) 100%)"></div>
<svg class="i" style="left:2248px;top:1346px" width="20" height="20" viewBox="2248 1346 20 20"><path d="M2266.5,1352.3 V1364.5 H2251.3 A15,12.2 0 0 0 2266.5,1352.3 Z" fill="#6f5428"/></svg>
<div class="b" style="left:14px;top:0px;width:2254px;height:1366px;border:2px solid #8aa9bb"></div>
<div class="b" style="left:2px;top:456px;width:412px;height:159px;border:10px solid #5272fc;border-radius:28px;background:#fff"></div>
<div class="b" style="left:2px;top:608px;width:412px;height:306px;border:10px solid #5272fc;border-radius:28px;background:#fff"></div>
<div class="b" style="left:12px;top:466px;width:392px;height:139px;background:#fff;border-radius:18px"></div>
<div class="b" style="left:1668px;top:181px;width:636px;height:156px;border:10px solid #5272fc;border-radius:28px;background:#f2f2f4"></div>
<div class="t" style="left:75.4px;top:480.68px;font-size:27.9px;font-weight:700;color:#24262b;letter-spacing:0.35px;filter:blur(0.55px);-webkit-text-stroke:0.75px #24262b;">Instagram</div>
<div class="t" style="left:75.4px;top:556.08px;font-size:27.9px;font-weight:700;color:#24262b;filter:blur(0.55px);-webkit-text-stroke:0.75px #24262b;">X</div>
<div class="t" style="left:75.4px;top:632.68px;font-size:27.9px;font-weight:700;color:#24262b;filter:blur(0.55px);-webkit-text-stroke:0.75px #24262b;">LinkedIn</div>
<div class="t" style="left:75.4px;top:707.98px;font-size:27.9px;font-weight:700;color:#24262b;filter:blur(0.55px);-webkit-text-stroke:0.75px #24262b;">Pinterest</div>
<div class="t" style="left:75.4px;top:783.58px;font-size:27.9px;font-weight:700;color:#24262b;filter:blur(0.55px);-webkit-text-stroke:0.75px #24262b;">TikTok</div>
<div class="t" style="left:75.4px;top:859.48px;font-size:27.9px;font-weight:700;color:#24262b;letter-spacing:0.25px;filter:blur(0.55px);-webkit-text-stroke:0.75px #24262b;">Snapchat</div>
<div class="b" style="left:1699px;top:214px;width:372px;height:88px;border:1.6px solid #d3d3d6;border-radius:12px;background:#f3f3f5"></div>
<div class="b" style="left:2098px;top:214px;width:172px;height:88px;border:1.6px solid #d3d3d6;border-radius:12px;background:#f3f3f5"></div>
<div class="t" style="left:1737.6px;top:244.58px;font-size:27.2px;font-weight:700;color:#24262b;filter:blur(0.55px);-webkit-text-stroke:0.75px #24262b;">Day</div>
<div class="t" style="left:2173.8px;top:244.81px;font-size:27.4px;font-weight:700;color:#24262b;filter:blur(0.55px);-webkit-text-stroke:0.75px #24262b;">Filter</div>
<svg class="i" style="left:0;top:0;filter:blur(0.55px);" width="2306" height="1366" viewBox="0 0 2306 1366"><path d="M365.5,490.1 L375.65,500.40000000000003 L385.8,490.1" fill="none" stroke="#33353b" stroke-width="2.0" stroke-linecap="round" stroke-linejoin="round"/>
<path d="M365.5,565.5 L375.65,575.8000000000001 L385.8,565.5" fill="none" stroke="#33353b" stroke-width="2.0" stroke-linecap="round" stroke-linejoin="round"/>
<path d="M365.5,642.0999999999999 L375.65,652.4 L385.8,642.0999999999999" fill="none" stroke="#33353b" stroke-width="2.0" stroke-linecap="round" stroke-linejoin="round"/>
<path d="M365.5,717.4 L375.65,727.7 L385.8,717.4" fill="none" stroke="#33353b" stroke-width="2.0" stroke-linecap="round" stroke-linejoin="round"/>
<path d="M365.5,793.0 L375.65,803.3000000000001 L385.8,793.0" fill="none" stroke="#33353b" stroke-width="2.0" stroke-linecap="round" stroke-linejoin="round"/>
<path d="M365.5,868.9 L375.65,879.2 L385.8,868.9" fill="none" stroke="#33353b" stroke-width="2.0" stroke-linecap="round" stroke-linejoin="round"/>
<defs><linearGradient id="ig" x1="0" y1="1" x2="1" y2="0"><stop offset="0" stop-color="#fd8a2c"/><stop offset="0.45" stop-color="#e8306f"/><stop offset="0.75" stop-color="#d62fa8"/><stop offset="1" stop-color="#9b2fe0"/></linearGradient></defs>
<g opacity="0.82"><rect x="31.2" y="480.9" width="26.8" height="26.2" rx="7" fill="none" stroke="url(#ig)" stroke-width="2.7"/>
<circle cx="45" cy="494.3" r="6.2" fill="none" stroke="url(#ig)" stroke-width="2.5"/><circle cx="52.3" cy="486.3" r="1.6" fill="#b730c4"/></g>
<path transform="translate(32.4,558.4) scale(0.02033)" d="M714.163 519.284L1160.89 0H1055.03L667.137 450.887L357.328 0H0L468.492 681.821L0 1226.37H105.866L515.491 750.218L842.672 1226.37H1200L714.137 519.284H714.163ZM569.165 687.828L521.697 619.934L144.011 79.6944H306.615L611.412 515.685L658.88 583.579L1055.08 1150.3H892.476L569.165 687.854V687.828Z" fill="#2a2c31"/>
<rect x="29.5" y="630.7" width="29.8" height="29.4" rx="3.2" fill="#1c73b3"/>
<rect x="33.4" y="641.2" width="4.2" height="15" fill="#fff"/><circle cx="35.5" cy="636.9" r="2.5" fill="#fff"/>
<path d="M40.6,641.2 H44.6 V643.3 C45.6,641.6 47.3,640.8 49.5,640.8 C53.4,640.8 55.3,643.1 55.3,647.4 V656.2 H51.1 V648.4 C51.1,645.9 50.2,644.5 48.1,644.5 C46,644.5 44.8,645.9 44.8,648.6 V656.2 H40.6 Z" fill="#fff"/>
<circle cx="44.4" cy="722" r="16.4" fill="#c8102e"/>
<path d="M44.9,711.6 C38.3,711.6 35.3,716.2 35.3,720 C35.3,722.3 36.2,724.4 38.1,725.1 C38.4,725.2 38.7,725.1 38.8,724.8 L39.2,723.3 C39.3,723 39.2,722.8 39,722.5 C38.4,721.8 38.1,720.9 38.1,719.6 C38.1,716 40.8,712.9 45.1,712.9 C48.9,712.9 51,715.2 51,718.3 C51,722.4 49.2,725.9 46.5,725.9 C45,725.9 43.9,724.7 44.3,723.2 C44.7,721.4 45.6,719.4 45.6,718.1 C45.6,716.9 45,716 43.7,716 C42.2,716 41,717.6 41,719.7 C41,721.1 41.5,722 41.5,722 L39.6,729.9 C39.1,732.3 39.5,735.6 39.5,735.9 C39.6,736.1 39.8,736.1 39.9,736 C40,735.8 41.7,733.7 42.3,731.7 L43.3,727.8 C43.9,728.9 45.5,729.8 47.1,729.8 C52,729.8 55.3,725.4 55.3,719.4 C55.3,715 51.4,711.6 44.9,711.6 Z" fill="#fff"/>
<path d="M46.3,781.3 H51.5 C51.7,784.8 54.2,787.6 58.4,787.9 V792.8 C55.6,792.7 53.4,791.9 51.5,790.5 V802.8 C51.5,809.7 46.2,814.9 40,814.9 C34,814.9 29.3,810.2 29.3,804.3 C29.3,797.8 35,793.1 41.5,794.2 V799.4 C38.4,798.6 34.5,800.4 34.5,804.2 C34.5,807.3 36.9,809.6 39.9,809.6 C43.3,809.6 46.3,807.2 46.3,802.8 Z" fill="#0b0b0b"/>
<rect x="29.5" y="859.7" width="29.8" height="29" rx="4" fill="#fffc00"/>
<path transform="translate(44.4,875.5) scale(0.88) translate(-44.4,-875.5)" d="M44.4,863.5 C48.6,863.5 50.8,866.6 50.8,870.3 V873.6 C51.6,873.8 52.8,873.2 53.2,873.6 C53.6,874.2 52.4,875 51.4,875.6 C51.6,878.4 54,880.6 56,881.4 C55.8,882.6 53.8,882.6 52.6,883 C52.2,884 52,884.8 51,884.6 C49.6,884.4 48.4,884.6 47.4,885.4 C46.4,886.2 45.6,886.6 44.4,886.6 C43.2,886.6 42.4,886.2 41.4,885.4 C40.4,884.6 39.2,884.4 37.8,884.6 C36.8,884.8 36.6,884 36.2,883 C35,882.6 33,882.6 32.8,881.4 C34.8,880.6 37.2,878.4 37.4,875.6 C36.4,875 35.2,874.2 35.6,873.6 C36,873.2 37.2,873.8 38,873.6 V870.3 C38,866.6 40.2,863.5 44.4,863.5 Z" fill="#fff" stroke="#111" stroke-width="1.3" stroke-linejoin="round"/>
<path d="M2025.5,255.2 H2040 L2032.75,263.4 Z" fill="#1f2127" stroke="#1f2127" stroke-width="1.2" stroke-linejoin="round"/>
<path d="M2133.9,243 V249.79999999999998 M2133.9,258.59999999999997 V272.4" stroke="#2a2c31" stroke-width="2.2" stroke-linecap="round" fill="none"/>
<circle cx="2133.9" cy="254.2" r="4.4" stroke="#2a2c31" stroke-width="2.2" fill="none"/>
<path d="M2142.7,243 V260.0 M2142.7,268.79999999999995 V272.4" stroke="#2a2c31" stroke-width="2.2" stroke-linecap="round" fill="none"/>
<circle cx="2142.7" cy="264.4" r="4.4" stroke="#2a2c31" stroke-width="2.2" fill="none"/>
<path d="M2152.4,243 V245.5 M2152.4,254.3 V272.4" stroke="#2a2c31" stroke-width="2.2" stroke-linecap="round" fill="none"/>
<circle cx="2152.4" cy="249.9" r="4.4" stroke="#2a2c31" stroke-width="2.2" fill="none"/></svg>

</body></html>
